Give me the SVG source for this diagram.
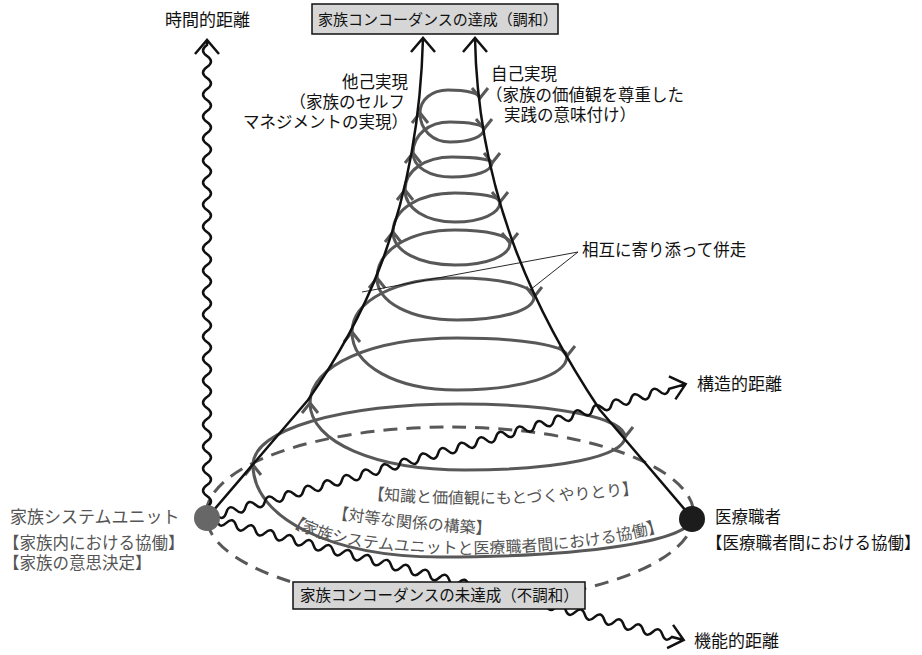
<svg xmlns="http://www.w3.org/2000/svg" width="922" height="655" viewBox="0 0 922 655">
<style>
text{font-family:"Noto Sans CJK JP","Noto Sans CJK SC",sans-serif;font-size:16.5px;fill:#111}
.g{fill:#555}
.spiral{fill:none;stroke:#585858;stroke-width:3}
.chev{fill:none;stroke:#585858;stroke-width:3}
.cone{fill:none;stroke:#111;stroke-width:2.5}
.wave{fill:none;stroke:#111;stroke-width:2.5}
.dash{fill:none;stroke:#585858;stroke-width:3;stroke-dasharray:14 9}
.box{fill:#d6d6d6;stroke:#111;stroke-width:1.5}
.lead{fill:none;stroke:#111;stroke-width:0.9}
</style>
<defs>
<path id="cu" d="M-8,10 L0,0 L8,10"/>
<path id="cd" d="M-8,-10 L0,0 L8,-10"/>
<path id="tp1" d="M368,499 Q500,511 642,493"/>
<path id="tp2" d="M332,518 Q410,530 490,534"/>
<path id="tp3" d="M287,522 C340,566 590,562 685,523"/>
</defs>

<g id="connectors">
<ellipse class="dash" cx="450" cy="515" rx="244" ry="88"/>
<path class="spiral" d="M692,518 C692,540.6 586.2,557 440,557 C331.5,557 253,518.4 253,465 C253,429.6 339.9,404 460,404 C555.7,404 625,417.9 625,437 C625,456.1 557.8,470 465,470 C375.1,470 310,441.9 310,403 C310,365.3 371.7,338 457,338 C520.8,338 567,345.6 567,356 C567,375.7 520.8,390 457,390 C396.1,390 352,365.6 352,332 C352,300.7 396.1,278 457,278 C501.7,278 534,286 534,297 C534,310.3 501.7,320 457,320 C410.6,320 377,302.4 377,278 C377,250.2 409.8,230 455,230 C486.9,230 510,235.5 510,243 C510,255.8 486.9,265 455,265 C419,265 393,251.1 393,232 C393,209.4 419,193 455,193 C481.1,193 500,196.8 500,202 C500,213.6 481.1,222 455,222 C426,222 405,208.6 405,190 C405,170.9 424.7,157 452,157 C475.2,157 492,159.5 492,163 C492,171.1 475.2,177 452,177 C429.4,177 413,166.9 413,153 C413,135 428.5,122 450,122 C469.7,122 484,124.9 484,129 C484,136.5 469.7,142 450,142 C432.6,142 420,129.8 420,113 C420,99.7 431.8,90 448,90 C466.6,90 480,93.4 480,98"/>
<g class="chev">
<use href="#cu" x="253" y="465"/><use href="#cu" x="310" y="403"/><use href="#cu" x="352" y="332"/><use href="#cu" x="377" y="278"/>
<use href="#cu" x="393" y="232"/><use href="#cu" x="405" y="190"/><use href="#cu" x="413" y="153"/><use href="#cu" x="420" y="113"/>
<use href="#cd" x="625" y="437"/><use href="#cd" x="567" y="356"/><use href="#cd" x="534" y="297"/><use href="#cd" x="510" y="243"/>
<use href="#cd" x="500" y="202"/><use href="#cd" x="492" y="163"/><use href="#cd" x="484" y="129"/><use href="#cd" x="480" y="98"/>
</g>
<path class="cone" d="M207,518 L308,400 C350,340 418,230 423,38 M411,52 L423,38 L435,52"/>
<path class="cone" d="M692,518 L600,410 C540,320 478,200 475,38 M463,52 L475,38 L487,52"/>
<g transform="translate(207,518) rotate(-90)">
<path class="wave" d="M0,0 q5.5,-8 11,0 t11,0 t11,0 t11,0 t11,0 t11,0 t11,0 t11,0 t11,0 t11,0 t11,0 t11,0 t11,0 t11,0 t11,0 t11,0 t11,0 t11,0 t11,0 t11,0 t11,0 t11,0 t11,0 t11,0 t11,0 t11,0 t11,0 t11,0 t11,0 t11,0 t11,0 t11,0 t11,0 t11,0 t11,0 t11,0 t11,0 t11,0 t11,0 t11,0 t11,0 t11,0 t11,0 L478,0 M464,-12 L478,0 L464,12"/>
</g>
<g transform="translate(207,518) rotate(-15.63)">
<path class="wave" d="M0,0 q5,-8 10,0 t10,0 t10,0 t10,0 t10,0 t10,0 t10,0 t10,0 t10,0 t10,0 t10,0 t10,0 t10,0 t10,0 t10,0 t10,0 t10,0 t10,0 t10,0 t10,0 t10,0 t10,0 t10,0 t10,0 t10,0 t10,0 t10,0 t10,0 t10,0 t10,0 t10,0 t10,0 t10,0 t10,0 t10,0 t10,0 t10,0 t10,0 t10,0 t10,0 t10,0 t10,0 t10,0 t10,0 t10,0 t10,0 t10,0 t10,0 L497,0 M483,-12 L497,0 L483,12"/>
</g>
<g transform="translate(207,518) rotate(14.35)">
<path class="wave" d="M0,0 q5,-8 10,0 t10,0 t10,0 t10,0 t10,0 t10,0 t10,0 t10,0 t10,0 t10,0 t10,0 t10,0 t10,0 t10,0 t10,0 t10,0 t10,0 t10,0 t10,0 t10,0 t10,0 t10,0 t10,0 t10,0 t10,0 t10,0 t10,0 t10,0 t10,0 t10,0 t10,0 t10,0 t10,0 t10,0 t10,0 t10,0 t10,0 t10,0 t10,0 t10,0 t10,0 t10,0 t10,0 t10,0 t10,0 t10,0 t10,0 t10,0 L492,0 M478,-12 L492,0 L478,12"/>
</g>
<path class="lead" d="M362,292 L578,252 L530,290"/>
</g>

<g id="family">
<circle cx="207" cy="518" r="13" fill="#676767"/>
<text class="g" x="10" y="523" style="font-size:17px">家族システムユニット</text>
<text class="g" x="3" y="549">【家族内における協働】</text>
<text class="g" x="3" y="569">【家族の意思決定】</text>
</g>

<g id="professional">
<circle cx="692" cy="519" r="13" fill="#1c1c1c"/>
<text x="715" y="523">医療職者</text>
<text x="706" y="549">【医療職者間における協働】</text>
</g>

<g id="top-goal">
<rect class="box" x="312" y="4" width="246" height="30"/>
<text x="318" y="25" style="font-size:15px">家族コンコーダンスの達成（調和）</text>
</g>

<g id="bottom-state">
<rect class="box" x="293" y="582" width="292" height="27"/>
<text x="300" y="601" style="font-size:15.5px">家族コンコーダンスの未達成（不調和）</text>
</g>

<g id="axis-labels">
<text x="165" y="26" style="font-size:17px">時間的距離</text>
<text x="697" y="390" style="font-size:17px">構造的距離</text>
<text x="694" y="647" style="font-size:17px">機能的距離</text>
</g>

<g id="other-realization">
<text x="408" y="88" text-anchor="end">他己実現</text>
<text x="405" y="108" text-anchor="end">（家族のセルフ</text>
<text x="408" y="128" text-anchor="end">マネジメントの実現）</text>
</g>

<g id="self-realization">
<text x="491" y="80">自己実現</text>
<text x="486" y="101">（家族の価値観を尊重した</text>
<text x="504" y="121">実践の意味付け）</text>
</g>

<g id="parallel-label">
<text x="582" y="256">相互に寄り添って併走</text>
</g>

<g id="interaction-labels">
<text class="g" style="font-size:16px"><textPath href="#tp1">【知識と価値観にもとづくやりとり】</textPath></text>
<text class="g" style="font-size:16px"><textPath href="#tp2">【対等な関係の構築】</textPath></text>
<text class="g" style="font-size:16px"><textPath href="#tp3">【家族システムユニットと医療職者間における協働】</textPath></text>
</g>
</svg>
